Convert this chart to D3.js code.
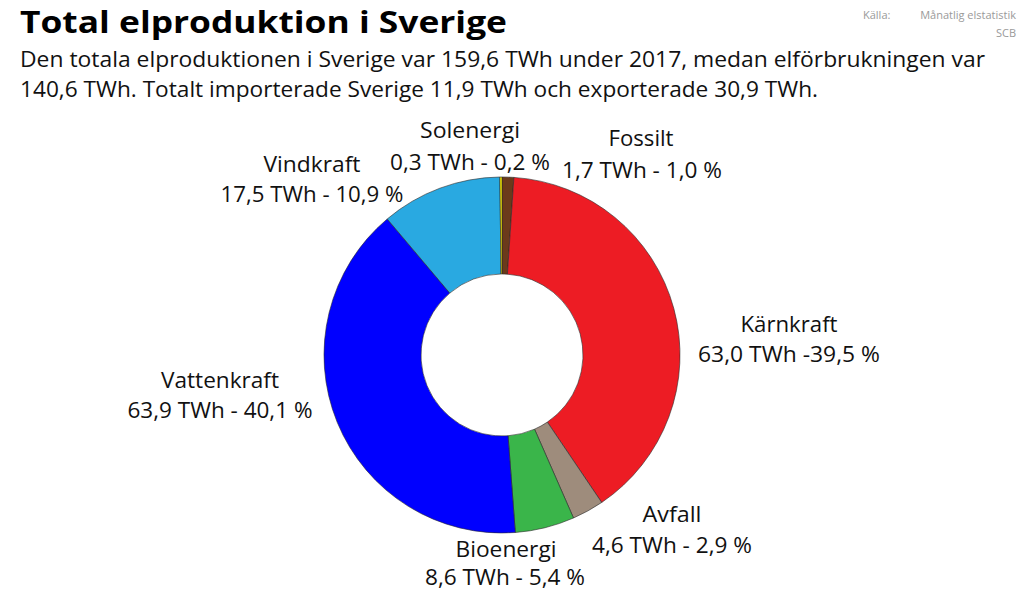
<!DOCTYPE html>
<html>
<head>
<meta charset="utf-8">
<script src="https://cdn.jsdelivr.net/npm/d3@7"></script>
<style>
  html, body { margin: 0; padding: 0; background: #fff; }
  svg { display: block; }
  text { font-family: "Open Sans", "Noto Sans", sans-serif; }
</style>
</head>
<body>
<svg id="chart" width="1024" height="595"></svg>
<script>
// ---- Data ----
const categories = ["Fossilt", "Kärnkraft", "Avfall", "Bioenergi", "Vattenkraft", "Vindkraft", "Solenergi"];
const twh = [1.7, 63.0, 4.6, 8.6, 63.9, 17.5, 0.3];
const valueLabels = ["1,7 TWh - 1,0 %", "63,0 TWh -39,5 %", "4,6 TWh - 2,9 %", "8,6 TWh - 5,4 %", "63,9 TWh - 40,1 %", "17,5 TWh - 10,9 %", "0,3 TWh - 0,2 %"];
const colors = ["#6B3A1B", "#ED1C24", "#9E8C7C", "#3AB54A", "#0000FF", "#29A9E1", "#FFF200"];

const titleText = "Total elproduktion i Sverige";
const subtitleLines = [
  "Den totala elproduktionen i Sverige var 159,6 TWh under 2017, medan elförbrukningen var",
  "140,6 TWh. Totalt importerade Sverige 11,9 TWh och exporterade 30,9 TWh."
];
const sourceLabel = "Källa:";
const sourceLines = ["Månatlig elstatistik", "SCB"];

// ---- Layout (positions for labels) ----
const labelLayout = {
  "Fossilt":     { name: [641, 146, 65],  value: [642, 178, 160] },
  "Kärnkraft":   { name: [789, 332, 97],  value: [789, 362, 182] },
  "Avfall":      { name: [672, 522, 59],  value: [672, 553, 160] },
  "Bioenergi":   { name: [506, 557, 101], value: [505, 585, 160] },
  "Vattenkraft": { name: [220, 388, 118], value: [220, 418, 185] },
  "Vindkraft":   { name: [312, 172, 97],  value: [312, 202, 183] },
  "Solenergi":   { name: [470, 138, 100], value: [470, 170, 160] }
};

const svg = d3.select("#chart");

// Title
svg.append("text")
  .attr("x", 20).attr("y", 33)
  .attr("font-size", 31).attr("font-weight", 700).attr("fill", "#000")
  .attr("textLength", 487).attr("lengthAdjust", "spacingAndGlyphs")
  .text(titleText);

const subLens = [965, 798];
subtitleLines.forEach((t, i) => {
  svg.append("text")
    .attr("x", 20).attr("y", 67 + i * 30)
    .attr("font-size", 22).attr("fill", "#111")
    .attr("textLength", subLens[i]).attr("lengthAdjust", "spacingAndGlyphs")
    .text(t);
});

// Source
svg.append("text")
  .attr("x", 863).attr("y", 19)
  .attr("font-size", 11).attr("fill", "#9a9a9a")
  .text(sourceLabel);
sourceLines.forEach((t, i) => {
  svg.append("text")
    .attr("x", 1016).attr("y", 19 + i * 18)
    .attr("text-anchor", "end")
    .attr("font-size", 11).attr("fill", "#9a9a9a")
    .text(t);
});

// Donut
const cx = 502, cy = 355;
const pie = d3.pie().sort(null).value(d => d.v).startAngle(0).endAngle(2 * Math.PI);
const arc = d3.arc().innerRadius(81).outerRadius(178);
const data = categories.map((c, i) => ({ c, v: twh[i], color: colors[i] }));

svg.append("g")
  .attr("transform", `translate(${cx},${cy})`)
  .selectAll("path")
  .data(pie(data))
  .join("path")
  .attr("d", arc)
  .attr("fill", d => d.data.color)
  .attr("stroke", "#2a2a2a")
  .attr("stroke-width", 0.6);

// Labels
const lg = svg.append("g");
categories.forEach((c, i) => {
  const L = labelLayout[c];
  lg.append("text")
    .attr("x", L.name[0]).attr("y", L.name[1])
    .attr("text-anchor", "middle")
    .attr("font-size", 21).attr("fill", "#111")
    .attr("textLength", L.name[2]).attr("lengthAdjust", "spacingAndGlyphs")
    .text(c);
  lg.append("text")
    .attr("x", L.value[0]).attr("y", L.value[1])
    .attr("text-anchor", "middle")
    .attr("font-size", 21).attr("fill", "#111")
    .attr("textLength", L.value[2]).attr("lengthAdjust", "spacingAndGlyphs")
    .text(valueLabels[i]);
});
</script>
</body>
</html>
